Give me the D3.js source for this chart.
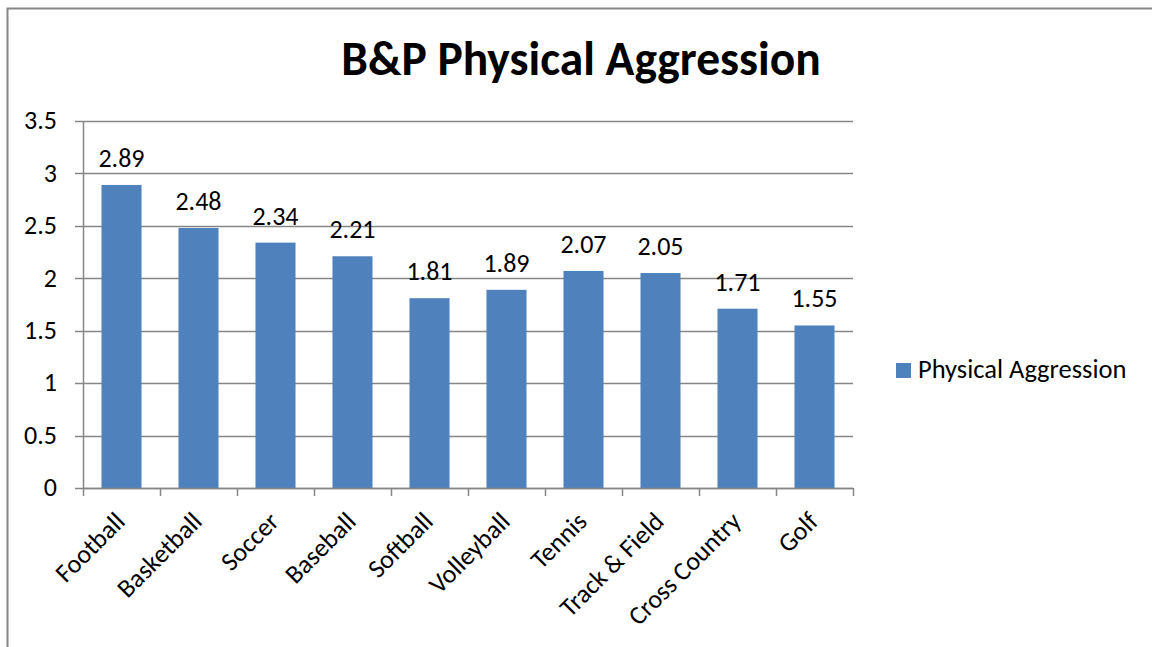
<!DOCTYPE html>
<html>
<head>
<meta charset="utf-8">
<script src="https://cdn.jsdelivr.net/npm/d3@7"></script>
<style>
  html, body { margin: 0; padding: 0; background: #fff; }
  svg text { font-family: Carlito, "Open Sans", "Liberation Sans", sans-serif; fill: #000; }
</style>
</head>
<body>
<svg id="chart" width="1152" height="647"></svg>
<script>
const categories = ["Football", "Basketball", "Soccer", "Baseball", "Softball",
                    "Volleyball", "Tennis", "Track & Field", "Cross Country", "Golf"];
const values = [2.89, 2.48, 2.34, 2.21, 1.81, 1.89, 2.07, 2.05, 1.71, 1.55];
const yTicks = [0, 0.5, 1, 1.5, 2, 2.5, 3, 3.5];
const seriesName = "Physical Aggression";
const title = "B&P Physical Aggression";

const svg = d3.select("#chart");
const barColor = "#4f81bd";
const axisColor = "#868686";

// outer chart frame
svg.append("rect")
  .attr("x", 7.5).attr("y", 8.5)
  .attr("width", 1160).attr("height", 660)
  .attr("fill", "none").attr("stroke", axisColor).attr("stroke-width", 2);

const plot = { left: 83, right: 853, top: 121, bottom: 488 };

const x = d3.scaleBand().domain(categories)
  .range([plot.left, plot.right]).paddingInner(0.48).paddingOuter(0.24);
const y = d3.scaleLinear().domain([0, 3.5]).range([plot.bottom, plot.top]);

// horizontal gridlines with outward ticks
svg.append("g").selectAll("line").data(yTicks).join("line")
  .attr("x1", plot.left - 8).attr("x2", plot.right)
  .attr("y1", d => Math.round(y(d)) + 0.5).attr("y2", d => Math.round(y(d)) + 0.5)
  .attr("stroke", axisColor).attr("stroke-width", 1.5);

// y tick labels
svg.append("g").selectAll("text").data(yTicks).join("text")
  .attr("x", 57).attr("y", d => y(d))
  .attr("dy", "0.32em").attr("text-anchor", "end")
  .attr("font-size", 26)
  .text(d => d);

// y axis line
svg.append("line")
  .attr("x1", plot.left + 0.5).attr("x2", plot.left + 0.5)
  .attr("y1", plot.top).attr("y2", plot.bottom)
  .attr("stroke", axisColor).attr("stroke-width", 1.5);

// bars
svg.append("g").selectAll("rect").data(values).join("rect")
  .attr("x", (d, i) => x(categories[i]))
  .attr("width", x.bandwidth())
  .attr("y", d => y(d))
  .attr("height", d => y(0) - y(d))
  .attr("fill", barColor);

// value labels
svg.append("g").selectAll("text").data(values).join("text")
  .attr("x", (d, i) => x(categories[i]) + x.bandwidth() / 2)
  .attr("y", d => y(d) - 18)
  .attr("text-anchor", "middle")
  .attr("font-size", 26)
  .text(d => d.toFixed(2));

// x axis baseline and category boundary ticks
const boundaries = d3.range(categories.length + 1).map(i => plot.left + i * (plot.right - plot.left) / categories.length);
svg.append("line")
  .attr("x1", plot.left).attr("x2", plot.right)
  .attr("y1", plot.bottom + 0.5).attr("y2", plot.bottom + 0.5)
  .attr("stroke", axisColor).attr("stroke-width", 1.5);
svg.append("g").selectAll("line").data(boundaries).join("line")
  .attr("x1", d => Math.round(d) + 0.5).attr("x2", d => Math.round(d) + 0.5)
  .attr("y1", plot.bottom).attr("y2", plot.bottom + 8)
  .attr("stroke", axisColor).attr("stroke-width", 1.5);

// rotated category labels
svg.append("g").selectAll("text").data(categories).join("text")
  .attr("transform", d => `translate(${x(d) + x.bandwidth() / 2 + 5},${plot.bottom + 35}) rotate(-45)`)
  .attr("text-anchor", "end")
  .attr("font-size", 26)
  .text(d => d);

// title
svg.append("text")
  .attr("x", 581).attr("y", 75)
  .attr("text-anchor", "middle")
  .attr("font-size", 47.5).attr("font-weight", "bold")
  .text(title);

// legend
const legend = svg.append("g").attr("transform", "translate(896,363)");
legend.append("rect").attr("width", 15).attr("height", 15).attr("fill", barColor);
legend.append("text").attr("x", 22).attr("y", 15)
  .attr("font-size", 26.5).text(seriesName);
</script>
</body>
</html>
